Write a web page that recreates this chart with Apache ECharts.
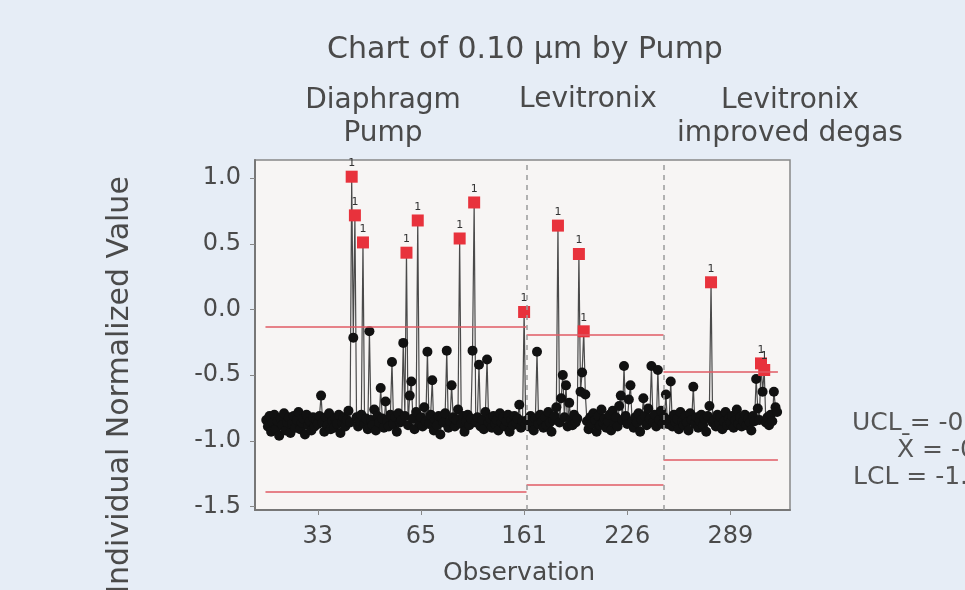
<!DOCTYPE html>
<html>
<head>
<meta charset="utf-8">
<script src="https://cdn.jsdelivr.net/npm/echarts@6/dist/echarts.min.js"></script>
<style>
  html, body { margin: 0; padding: 0; background: #e6edf6; }
  #chart { width: 965px; height: 590px; }
</style>
</head>
<body>
<div id="chart"></div>
<script type="text/javascript">
// observations per stage (normalized 0.10 um values)
var stage1 = [
  -0.84, -0.89, -0.81, -0.93, -0.86, -0.80, -0.91, -0.85, -0.96, -0.83,
  -0.88, -0.79, -0.92, -0.86, -0.82, -0.94, -0.87, -0.81, -0.90, -0.84,
  -0.78, -0.91, -0.86, -0.83, -0.95, -0.80, -0.88, -0.85, -0.92, -0.82,
  -0.89, -0.84, -0.87, -0.81, -0.655, -0.86, -0.93, -0.82, -0.88, -0.79,
  -0.91, -0.85, -0.90, -0.83, -0.87, -0.80, -0.94, -0.86, -0.82, -0.89,
  -0.84, -0.77, -0.86, 1.01, -0.215, 0.716, -0.82, -0.89, -0.85, -0.80,
  0.51, -0.87, -0.83, -0.91, -0.166, -0.84, -0.88, -0.76, -0.92, -0.81,
  -0.86, -0.597, -0.83, -0.90, -0.70, -0.85, -0.89, -0.80, -0.40, -0.87,
  -0.82, -0.93, -0.79, -0.86, -0.84, -0.254, -0.81, 0.432, -0.88, -0.655,
  -0.548, -0.83, -0.91, -0.78, 0.677, -0.86, -0.82, -0.89, -0.744, -0.85,
  -0.322, -0.87, -0.80, -0.538, -0.92, -0.84, -0.88, -0.81, -0.95, -0.83,
  -0.86, -0.79, -0.313, -0.90, -0.85, -0.577, -0.82, -0.89, -0.84, -0.76,
  0.54, -0.87, -0.81, -0.93, -0.85, -0.80, -0.88, -0.83, -0.313, 0.814,
  -0.86, -0.82, -0.42, -0.89, -0.84, -0.91, -0.78, -0.38, -0.86, -0.83,
  -0.90, -0.81, -0.87, -0.84, -0.92, -0.79, -0.86, -0.82, -0.89, -0.85,
  -0.80, -0.93, -0.84, -0.88, -0.81, -0.86, -0.83, -0.724, -0.90, -0.85,
  -0.019, -0.87
];
var stage2 = [
  -0.84, -0.89, -0.81, -0.86, -0.92, -0.83, -0.322, -0.87, -0.80, -0.85,
  -0.90, -0.82, -0.88, -0.78, -0.86, -0.93, -0.84, -0.81, -0.744, 0.638,
  -0.86, -0.675, -0.499, -0.82, -0.577, -0.89, -0.71, -0.84, -0.88, -0.80,
  -0.86, -0.83, 0.422, -0.626, -0.479, -0.166, -0.646, -0.85, -0.91, -0.82,
  -0.87, -0.79, -0.84, -0.93, -0.81, -0.88, -0.76, -0.86, -0.83, -0.90,
  -0.85, -0.80, -0.92, -0.77, -0.86, -0.82, -0.89, -0.734, -0.655, -0.84,
  -0.43, -0.81, -0.87, -0.685, -0.577, -0.85, -0.90, -0.82, -0.86, -0.79,
  -0.93, -0.84, -0.675, -0.81, -0.88, -0.753, -0.83, -0.43, -0.86, -0.80,
  -0.89, -0.46, -0.84, -0.77, -0.87
];
var stage3 = [
  -0.82, -0.646, -0.87, -0.84, -0.548, -0.89, -0.80, -0.86, -0.83, -0.91,
  -0.78, -0.85, -0.88, -0.81, -0.86, -0.92, -0.79, -0.84, -0.587, -0.87,
  -0.82, -0.90, -0.85, -0.80, -0.88, -0.83, -0.93, -0.81, -0.734, 0.207,
  -0.86, -0.84, -0.89, -0.80, -0.87, -0.82, -0.91, -0.85, -0.78, -0.88,
  -0.83, -0.86, -0.81, -0.90, -0.84, -0.76, -0.87, -0.82, -0.89, -0.85,
  -0.80, -0.88, -0.83, -0.86, -0.92, -0.81, -0.85, -0.528, -0.753, -0.84,
  -0.41, -0.626, -0.46, -0.86, -0.82, -0.88, -0.80, -0.85, -0.626, -0.744,
  -0.78
];

var stageStart = [1, 163, 248];
var ucl = [-0.133, -0.194, -0.475];
var center = [-0.76, -0.762, -0.81];
var lcl = [-1.386, -1.33, -1.145];
var stageNames = ['Diaphragm\nPump', 'Levitronix', 'Levitronix\nimproved degas'];

var xTickValues = [33, 97, 161, 225, 289];
var xTickLabels = ['33', '65', '161', '226', '289'];
var yTickValues = [-1.5, -1.0, -0.5, 0.0, 0.5, 1.0];

var FONT = 'DejaVu Sans';
var stages = [stage1, stage2, stage3];

function buildData(vals, start, limit) {
  return vals.map(function (v, i) {
    var x = start + i;
    if (v > limit) {
      return {
        value: [x, v],
        symbol: 'rect',
        symbolSize: 12,
        itemStyle: { color: '#e8323c' },
        label: { show: true, formatter: '1', position: 'top', distance: 2, color: '#333', fontSize: 11, fontFamily: FONT }
      };
    }
    return [x, v];
  });
}

var series = stages.map(function (vals, k) {
  var s = stageStart[k] - 0.5;
  var e = stageStart[k] + vals.length - 0.5;
  var lines = [
    [{ coord: [s, ucl[k]], lineStyle: { color: '#e05a64', width: 1.5, type: 'solid' } }, { coord: [e, ucl[k]] }],
    [{ coord: [s, lcl[k]], lineStyle: { color: '#e05a64', width: 1.5, type: 'solid' } }, { coord: [e, lcl[k]] }]
  ];
  if (k > 0) {
    lines.push({ xAxis: s, lineStyle: { color: '#9a9a9a', width: 1.5, type: [5, 5] } });
  }
  return {
    type: 'line',
    data: buildData(vals, stageStart[k], ucl[k]),
    symbol: 'circle',
    symbolSize: 10,
    showAllSymbol: true,
    itemStyle: { color: '#111' },
    lineStyle: { color: '#4a4a4a', width: 1.2 },
    animation: false,
    markLine: {
      silent: true,
      symbol: ['none', 'none'],
      label: { show: false },
      animation: false,
      data: lines
    }
  };
});

var graphics = [
  { type: 'text', x: 525, y: 50, style: { text: 'Chart of 0.10 µm by Pump', fontSize: 30, fontFamily: FONT, fill: '#4a4a4a', align: 'center', verticalAlign: 'middle' } },
  { type: 'text', x: 383, y: 117, style: { text: stageNames[0], fontSize: 28, lineHeight: 33, fontFamily: FONT, fill: '#4a4a4a', align: 'center', verticalAlign: 'middle' } },
  { type: 'text', x: 588, y: 100, style: { text: stageNames[1], fontSize: 28, lineHeight: 33, fontFamily: FONT, fill: '#4a4a4a', align: 'center', verticalAlign: 'middle' } },
  { type: 'text', x: 790, y: 117, style: { text: stageNames[2], fontSize: 28, lineHeight: 33, fontFamily: FONT, fill: '#4a4a4a', align: 'center', verticalAlign: 'middle' } },
  { type: 'text', x: 120, y: 385, rotation: Math.PI / 2, style: { text: 'Individual Normalized Value', fontSize: 30, fontFamily: FONT, fill: '#4a4a4a', align: 'center', verticalAlign: 'middle' } },
  { type: 'text', x: 519, y: 573, style: { text: 'Observation', fontSize: 25, fontFamily: FONT, fill: '#4a4a4a', align: 'center', verticalAlign: 'middle' } },
  { type: 'text', x: 852, y: 423, style: { text: 'UCL = ' + ucl[2].toFixed(3), fontSize: 25, fontFamily: FONT, fill: '#555', align: 'left', verticalAlign: 'middle' } },
  { type: 'text', x: 897, y: 450, style: { text: 'X\u0304 = ' + center[2].toFixed(3), fontSize: 25, fontFamily: FONT, fill: '#555', align: 'left', verticalAlign: 'middle' } },
  { type: 'text', x: 853, y: 477, style: { text: 'LCL = ' + lcl[2].toFixed(3), fontSize: 25, fontFamily: FONT, fill: '#555', align: 'left', verticalAlign: 'middle' } }
];

var myChart = echarts.init(document.getElementById('chart'));
var option = {
  backgroundColor: '#e6edf6',
  grid: {
    left: 255, top: 160, width: 535, height: 350,
    show: true, backgroundColor: '#f7f5f4', borderColor: '#888', borderWidth: 1.5
  },
  xAxis: {
    type: 'value',
    min: -6,
    max: 326,
    axisLine: { show: true, onZero: false, lineStyle: { color: '#777', width: 2 } },
    axisTick: { show: true, customValues: xTickValues, length: 5, lineStyle: { color: '#888' } },
    axisLabel: {
      customValues: xTickValues,
      margin: 15,
      fontSize: 24,
      fontFamily: FONT,
      color: '#4a4a4a',
      formatter: function (v) {
        var i = xTickValues.indexOf(v);
        return i >= 0 ? xTickLabels[i] : '';
      }
    },
    splitLine: { show: false }
  },
  yAxis: {
    type: 'value',
    min: -1.525,
    max: 1.137,
    axisLine: { show: true, onZero: false, lineStyle: { color: '#777', width: 2 } },
    axisTick: { show: true, customValues: yTickValues, length: 5, lineStyle: { color: '#888' } },
    axisLabel: {
      customValues: yTickValues,
      margin: 14,
      fontSize: 24,
      fontFamily: FONT,
      color: '#4a4a4a',
      formatter: function (v) { return v.toFixed(1); }
    },
    splitLine: { show: false }
  },
  graphic: graphics,
  series: series
};
myChart.setOption(option);
</script>
</body>
</html>
